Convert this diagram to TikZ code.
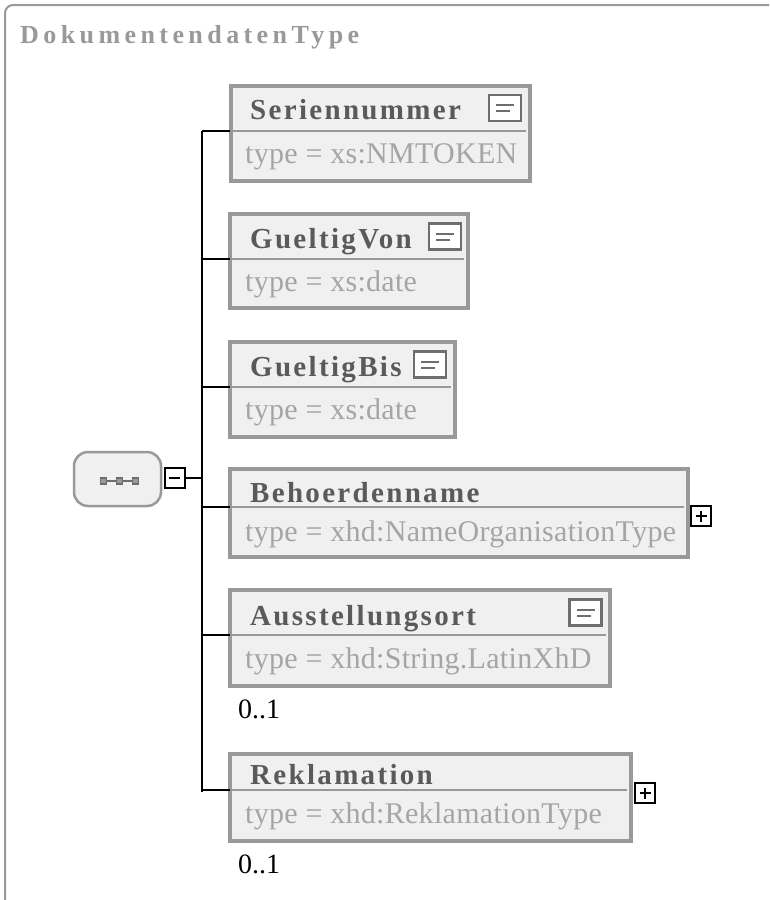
\documentclass[tikz,border=0pt]{standalone}
\usepackage{fontspec}
\setmainfont{Liberation Serif}
\newfontfamily\namefont[LetterSpace=8]{Liberation Serif}
\newfontfamily\headfont[LetterSpace=17]{Liberation Serif}
\newfontfamily\typefont[LetterSpace=1]{Liberation Serif}
\usetikzlibrary{positioning}
\definecolor{boxgray}{RGB}{153,153,153}
\definecolor{boxfill}{RGB}{240,240,240}
\definecolor{namegray}{RGB}{90,90,90}
\definecolor{typegray}{RGB}{165,165,165}
\definecolor{icongray}{RGB}{110,110,110}

\begin{document}
\begin{tikzpicture}[
    x=1pt, y=-1pt,
    elem/.style={draw=boxgray, line width=4pt, fill=boxfill, inner sep=0pt, outer sep=0pt},
    sepline/.style={draw=boxgray, line width=2pt},
    elemname/.style={anchor=base west, inner sep=0pt, text=namegray, font=\namefont\bfseries\fontsize{29}{33}\selectfont},
    elemtype/.style={anchor=base west, inner sep=0pt, text=typegray, font=\typefont\fontsize{30}{34}\selectfont},
    occurs/.style={anchor=base west, inner sep=0pt, font=\fontsize{28}{32}\selectfont},
    docicon/.style={draw=icongray, line width=2.4pt, fill=white, minimum width=32, minimum height=26, inner sep=0pt},
    togglebox/.style={draw=black, line width=2pt, fill=white, minimum size=20, inner sep=0pt},
    seqbox/.style={draw=boxgray, line width=2.5pt, fill=boxfill, rounded corners=14pt, minimum width=87, minimum height=54, inner sep=0pt},
    conn/.style={draw=black, line width=2pt},
]
\useasboundingbox (0,0) rectangle (769,900);
\clip (0,0) rectangle (769,900);

% outer frame of the complex type
\draw[draw=boxgray, line width=2pt, rounded corners=8pt] (5,5) rectangle (800,930);
\node[anchor=base west, inner sep=0pt, text=boxgray, font=\headfont\bfseries\fontsize{26}{30}\selectfont] (typename) at (20,43) {DokumentendatenType};

% sequence compositor
\node[seqbox] (seq) at (117.5,479) {};
\draw[icongray, line width=1.2pt] (103,481) -- (136,481);
\foreach \dx in {-16,0,16} \draw[icongray, fill=boxgray, line width=1.5pt] (119.5+\dx-3,481-3) rectangle ++(6,6);
\node[togglebox] (seqminus) at (174.5,478) {};
\draw[line width=2pt] (169,478) -- (180,478);

% spine
\coordinate (spinetop) at (202,131);
\coordinate (spinebot) at (202,792);
\draw[conn] (seqminus.east) -- (seqminus.east -| spinetop);
\draw[conn] (spinetop) -- (spinebot);

% Seriennummer
\node[elem, minimum width=299, minimum height=95] (ser) at (380.5,133.5) {};
\coordinate (ser-sep) at (230,131);
\draw[sepline] (ser-sep) -- ++(296,0);
\node[elemname] (ser-name) at (250,119) {Seriennummer};
\node[elemtype] (ser-type) at (245,163) {type = xs:NMTOKEN};
\node[docicon] (ser-icon) at (505,108) {};
\draw[conn] (spinetop) -- (ser-sep);

% GueltigVon
\node[elem, minimum width=238, minimum height=94] (gvon) at (349,261) {};
\coordinate (gvon-sep) at (230,259);
\draw[sepline] (gvon-sep) -- ++(234,0);
\node[elemname] (gvon-name) at (250,248) {GueltigVon};
\node[elemtype] (gvon-type) at (245,291) {type = xs:date};
\node[docicon] (gvon-icon) at (445,236.5) {};
\draw[conn] (gvon-sep -| spinetop) -- (gvon-sep);

% GueltigBis
\node[elem, minimum width=225, minimum height=95] (gbis) at (342.5,389.5) {};
\coordinate (gbis-sep) at (230,387);
\draw[sepline] (gbis-sep) -- ++(221,0);
\node[elemname] (gbis-name) at (250,376) {GueltigBis};
\node[elemtype] (gbis-type) at (245,419) {type = xs:date};
\node[docicon] (gbis-icon) at (430,364.5) {};
\draw[conn] (gbis-sep -| spinetop) -- (gbis-sep);

% Behoerdenname
\node[elem, minimum width=458, minimum height=88] (behoerde) at (459,513) {};
\coordinate (behoerde-sep) at (230,507);
\draw[sepline] (behoerde-sep) -- ++(454,0);
\node[elemname] (behoerde-name) at (250,502) {Behoerdenname};
\node[elemtype] (behoerde-type) at (245,541) {type = xhd:NameOrganisationType};
\node[togglebox] (behoerde-plus) at (701,516) {};
\draw[line width=2pt] (695.5,516) -- (706.5,516) (701,510.5) -- (701,521.5);
\draw[conn] (behoerde-sep -| spinetop) -- (behoerde-sep);

% Ausstellungsort
\node[elem, minimum width=380, minimum height=96] (ausst) at (420,638) {};
\coordinate (ausst-sep) at (230,635);
\draw[sepline] (ausst-sep) -- ++(376,0);
\node[elemname] (ausst-name) at (250,625) {Ausstellungsort};
\node[elemtype] (ausst-type) at (245,668) {type = xhd:String.LatinXhD};
\node[docicon] (ausst-icon) at (585.5,612.5) {};
\node[occurs] (ausst-occ) at (238,718) {0..1};
\draw[conn] (ausst-sep -| spinetop) -- (ausst-sep);

% Reklamation
\node[elem, minimum width=401, minimum height=87] (rekl) at (430.5,797.5) {};
\coordinate (rekl-sep) at (230,790);
\draw[sepline] (rekl-sep) -- ++(397,0);
\node[elemname] (rekl-name) at (250,784) {Reklamation};
\node[elemtype] (rekl-type) at (245,823) {type = xhd:ReklamationType};
\node[togglebox] (rekl-plus) at (645,793) {};
\draw[line width=2pt] (639.5,793) -- (650.5,793) (645,787.5) -- (645,798.5);
\node[occurs] (rekl-occ) at (238,873) {0..1};
\draw[conn] (rekl-sep -| spinetop) -- (rekl-sep);

% icon strokes
\foreach \ic in {ser-icon, gvon-icon, gbis-icon, ausst-icon} {
  \draw[icongray, line width=2pt] ([shift={(-9,-3)}]\ic.center) -- ++(18,0);
  \draw[icongray, line width=2pt] ([shift={(-9,3)}]\ic.center) -- ++(14,0);
}
\end{tikzpicture}
\end{document}
